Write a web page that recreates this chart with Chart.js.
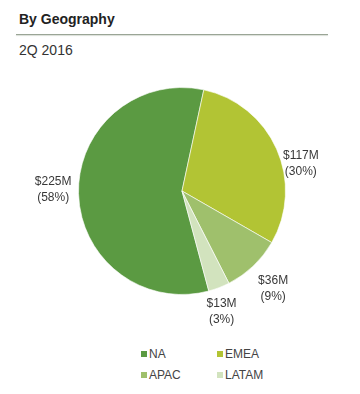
<!DOCTYPE html>
<html>
<head>
<meta charset="utf-8">
<script src="https://cdn.jsdelivr.net/npm/chart.js@4.4.0/dist/chart.umd.min.js"></script>
<style>
  body { margin: 0; background: #fff; font-family: "Liberation Sans", Arial, sans-serif; }
  #wrap { position: relative; width: 360px; height: 394px; overflow: hidden; }
  #title { position: absolute; left: 19px; top: 11px; font-size: 14px; font-weight: bold; color: #222; }
  #rule { position: absolute; left: 16px; top: 34px; width: 312px; height: 1px; background: #9aa596; box-shadow: 0 1px 1px #d6dbd4; }
  #sub { position: absolute; left: 19px; top: 42px; font-size: 14px; color: #333; }
  #pie { position: absolute; left: 0; top: 56px; }
  #legend { position: absolute; left: 141px; top: 346px; width: 160px; display: grid; grid-template-columns: 76px 76px; row-gap: 5px; }
  .item { font-size: 12px; color: #444; display: flex; align-items: center; height: 16px; }
  .box { width: 6px; height: 6px; margin-right: 2px; }
</style>
</head>
<body>
<div id="wrap">
  <div id="title">By Geography</div>
  <div id="rule"></div>
  <div id="sub">2Q 2016</div>
  <canvas id="pie" width="360" height="270"></canvas>
  <div id="legend"></div>
</div>
<script>
var regions = ["NA", "EMEA", "APAC", "LATAM"];
var revenue = [225, 117, 36, 13];        // $M
var shareLabels = ["58%", "30%", "9%", "3%"];
var colors = ["#5b9a42", "#b2c434", "#9fc06c", "#d2e3be"];

// labels outside the pie, placed from each arc's geometry
var outsideLabels = {
  id: "outsideLabels",
  afterDatasetsDraw: function (chart) {
    var ctx = chart.ctx;
    var arcs = chart.getDatasetMeta(0).data;
    ctx.save();
    ctx.font = "12px 'Liberation Sans', Arial, sans-serif";
    ctx.fillStyle = "#383838";
    ctx.textBaseline = "middle";
    var lh = 16;
    arcs.forEach(function (arc, i) {
      var p = arc.getProps(["x", "y", "startAngle", "endAngle", "outerRadius"], true);
      var mid = (p.startAngle + p.endAngle) / 2;
      var r = p.outerRadius + 7;
      var c = Math.cos(mid), s = Math.sin(mid);
      var ax = p.x + c * r, ay = p.y + s * r;
      var align = c > 0.5 ? "left" : (c < -0.5 ? "right" : "center");
      var top = Math.abs(s) < 0.2 ? ay - lh - 4 : ay + 2;
      var lines = ["$" + revenue[i] + "M", "(" + shareLabels[i] + ")"];
      ctx.textAlign = "center";
      var w = Math.max(ctx.measureText(lines[0]).width, ctx.measureText(lines[1]).width);
      var cx = align === "left" ? ax + w / 2 : (align === "right" ? ax - w / 2 : ax);
      lines.forEach(function (t, k) {
        ctx.fillText(t, cx, top + lh / 2 + k * lh);
      });
    });
    ctx.restore();
  }
};

var chart = new Chart(document.getElementById("pie").getContext("2d"), {
  type: "pie",
  data: {
    labels: regions,
    datasets: [{
      data: revenue,
      backgroundColor: colors,
      borderColor: "rgba(255,255,255,0.6)",
      borderWidth: 1
    }]
  },
  options: {
    responsive: false,
    animation: false,
    rotation: 165,
    layout: { padding: { top: 31, bottom: 31, left: 59, right: 55 } },
    plugins: {
      legend: { display: false },
      tooltip: { enabled: false }
    }
  },
  plugins: [outsideLabels]
});

// html legend, built from the chart's own legend items
var legendEl = document.getElementById("legend");
chart.options.plugins.legend.labels.generateLabels(chart).forEach(function (item) {
  var div = document.createElement("div");
  div.className = "item";
  var box = document.createElement("span");
  box.className = "box";
  box.style.background = item.fillStyle;
  div.appendChild(box);
  div.appendChild(document.createTextNode(item.text));
  legendEl.appendChild(div);
});
</script>
</body>
</html>
